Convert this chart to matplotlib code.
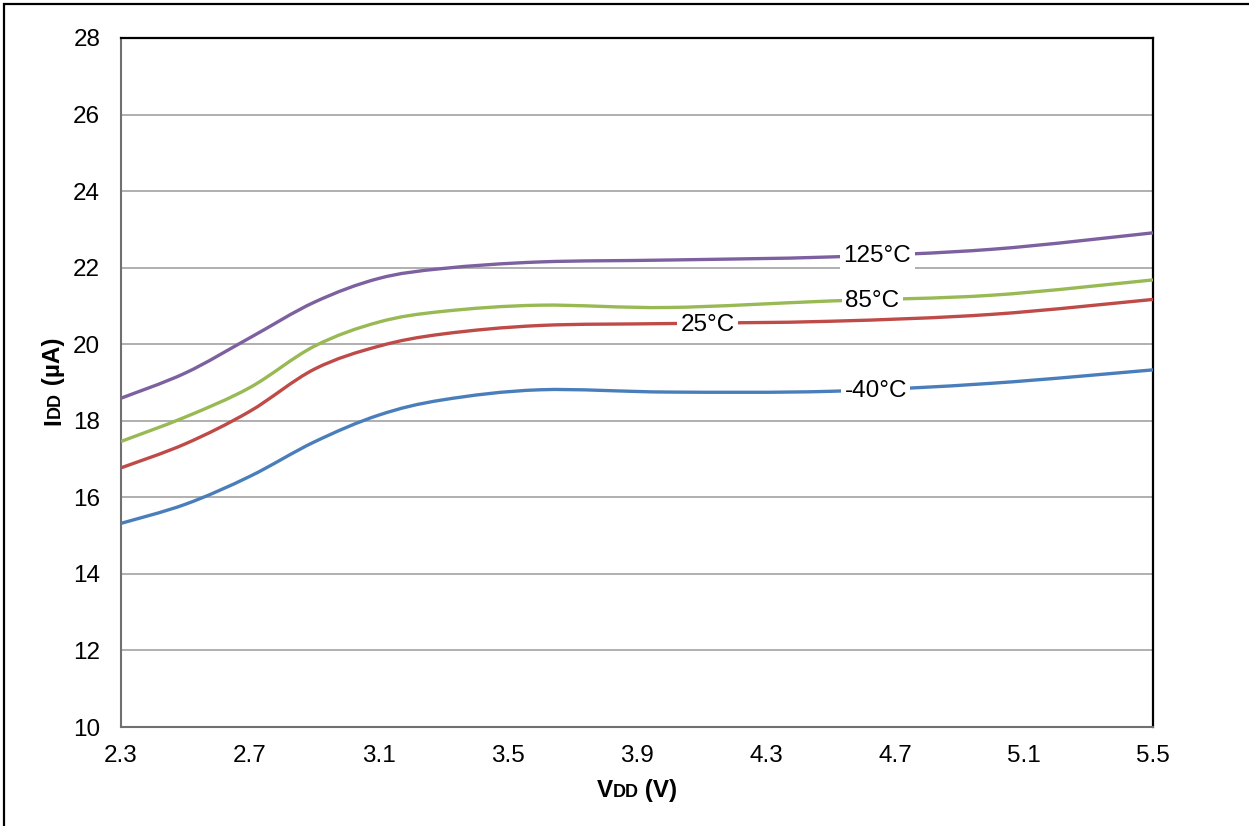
import numpy as np
import matplotlib.pyplot as plt
from matplotlib.path import Path
from matplotlib.patches import PathPatch, Rectangle

plt.rcParams['font.family'] = ['Liberation Sans', 'DejaVu Sans']

# Messpunkte VDD (V)
vdd = [2.3, 2.5, 2.7, 2.9, 3.1, 3.3, 3.6, 4.0, 4.5, 5.0, 5.5]

# IDD (uA) je Temperatur
idd_m40 = [15.32, 15.82, 16.55, 17.45, 18.15, 18.55, 18.81, 18.75, 18.77, 18.98, 19.33]
idd_25 = [16.77, 17.40, 18.25, 19.35, 19.95, 20.27, 20.49, 20.54, 20.60, 20.78, 21.17]
idd_85 = [17.46, 18.10, 18.87, 19.95, 20.58, 20.86, 21.02, 20.96, 21.13, 21.28, 21.68]
idd_125 = [18.59, 19.25, 20.17, 21.10, 21.72, 21.98, 22.15, 22.20, 22.28, 22.48, 22.91]

serien = [
    ('-40°C', idd_m40, '#4a7ebb', (4.64, 18.77)),
    ('25°C', idd_25, '#be4b48', (4.12, 20.49)),
    ('85°C', idd_85, '#98b954', (4.63, 21.13)),
    ('125°C', idd_125, '#7d60a0', (4.645, 22.31)),
]

x_ticks = [2.3, 2.7, 3.1, 3.5, 3.9, 4.3, 4.7, 5.1, 5.5]
y_ticks = [10, 12, 14, 16, 18, 20, 22, 24, 26, 28]

FS = 17.5


def smooth_path(xs, ys):
    # geglaettete Linie wie in Excel (Catmull-Rom als Bezier)
    pts = np.column_stack([xs, ys])
    n = len(pts)
    verts = [pts[0]]
    codes = [Path.MOVETO]
    for i in range(n - 1):
        p0 = pts[i - 1] if i > 0 else pts[i]
        p1 = pts[i]
        p2 = pts[i + 1]
        p3 = pts[i + 2] if i + 2 < n else pts[i + 1]
        c1 = p1 + (p2 - p0) / 6.0
        c2 = p2 - (p3 - p1) / 6.0
        verts += [c1, c2, p2]
        codes += [Path.CURVE4] * 3
    return Path(verts, codes)


W, H = 1249, 826
fig = plt.figure(figsize=(W / 100, H / 100), dpi=100)
ax = fig.add_axes([121 / W, 1 - 727 / H, (1153 - 121) / W, (727 - 38) / H])

for name, vals, col, pos in serien:
    ax.add_patch(PathPatch(smooth_path(vdd, vals), facecolor='none', edgecolor=col,
                           lw=2.4, capstyle='butt', zorder=3))
    ax.text(pos[0], pos[1], name, fontsize=FS, ha='center', va='center', zorder=4,
            bbox=dict(facecolor='white', edgecolor='none', pad=2.5))

ax.set_xlim(2.3, 5.5)
ax.set_ylim(10, 28)
ax.set_xticks(x_ticks)
ax.set_xticklabels([f'{v:.1f}' for v in x_ticks])
ax.set_yticks(y_ticks)
ax.tick_params(length=0, labelsize=FS)
ax.tick_params(axis='y', pad=15)
ax.tick_params(axis='x', pad=13)
ax.yaxis.grid(True, color='#9a9a9a', lw=1.1)
ax.set_axisbelow(True)
for s in ['top', 'right']:
    ax.spines[s].set_color('black')
    ax.spines[s].set_linewidth(1.6)
for s in ['left', 'bottom']:
    ax.spines[s].set_color('#707070')
    ax.spines[s].set_linewidth(1.5)

# Rahmen um die ganze Grafik
fig.patches.append(Rectangle((4 / W, -0.05), 1.1, 1 - 4 / H + 0.05, transform=fig.transFigure,
                             fill=False, edgecolor='black', lw=1.6))

renderer = fig.canvas.get_renderer()


def rich_text(parts, cx, cy, rot):
    # Text aus Stuecken mit verschiedener Groesse, zentriert um (cx, cy) in Pixeln
    objs = []
    for s, sz in parts:
        t = fig.text(0, 0, s, fontsize=sz, fontweight='bold', rotation=rot,
                     rotation_mode='anchor', ha='left', va='baseline')
        objs.append(t)
    lens = []
    for t in objs:
        bb = t.get_window_extent(renderer)
        lens.append(bb.height if rot == 90 else bb.width)
    total = sum(lens)
    pos = -total / 2
    for t, l in zip(objs, lens):
        if rot == 90:
            t.set_position((cx / W, 1 - (cy - pos) / H))
        else:
            t.set_position(((cx + pos) / W, 1 - cy / H))
        pos += l


rich_text([('V', FS), ('DD', 13), (' (V)', FS)], 637, 797, 0)
rich_text([('I', FS), ('DD', 13), (' (µA)', FS)], 60, 381, 90)

fig.savefig('out.png', dpi=100)
